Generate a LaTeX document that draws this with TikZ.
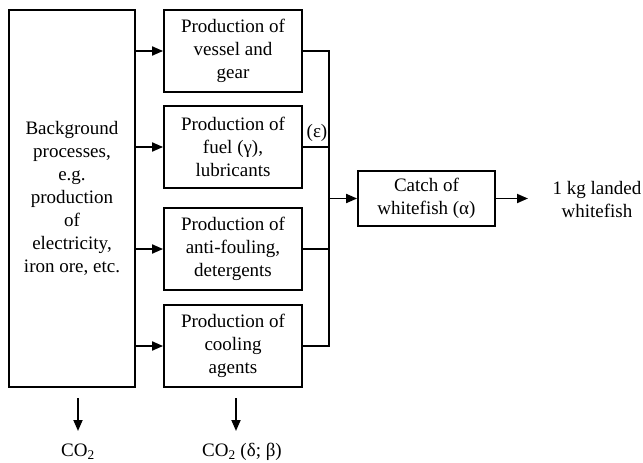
\documentclass[tikz,border=0pt]{standalone}
\usepackage{fontspec}
\setmainfont{Liberation Serif}
\usetikzlibrary{arrows.meta}
\begin{document}
\begin{tikzpicture}[x=1pt,y=-1pt,
 txt/.style={align=center,inner sep=0pt,font=\fontsize{19}{23}\selectfont},
 box/.style={txt,draw,line width=1.8pt},
 arr/.style={line width=1.8pt,-{Triangle[length=11pt,width=9pt]}},
 ln/.style={line width=1.8pt}]
\useasboundingbox (0,0) rectangle (643,463);
\node[box,minimum width=126pt,minimum height=377pt] (bg) at (72,198.5)
 {Background\\processes,\\e.g.\\production\\of\\electricity,\\iron ore, etc.};
\node[box,minimum width=138pt,minimum height=82pt] (b1) at (233,51) {Production of\\vessel and\\gear};
\node[box,minimum width=138pt,minimum height=82pt] (b2) at (233,147) {Production of\\fuel (γ),\\lubricants};
\node[box,minimum width=138pt,minimum height=82pt] (b3) at (233,249) {Production of\\anti-fouling,\\detergents};
\node[box,minimum width=138pt,minimum height=82pt] (b4) at (233,346) {Production of\\cooling\\agents};
\node[box,minimum width=137pt,minimum height=55pt] (catch) at (426.5,198.5) {Catch of\\whitefish (α)};
\node[txt] (out) at (597,199) {1 kg landed\\whitefish};
\node[txt] (eps) at (317,133) {(ε)};
\node[txt] (co2a) at (78,452) {CO\textsubscript{2}};
\node[txt] (co2b) at (242,452) {CO\textsubscript{2} (δ; β)};
\coordinate (bt) at (329,51);
\coordinate (bb) at (329,346);
\coordinate (oe) at (528,198.5);
\coordinate (a1s) at (78,398);
\coordinate (a1e) at (78,431);
\coordinate (a2s) at (236,398);
\coordinate (a2e) at (236,431);
% inputs
\draw[arr] (bg.east |- b1) -- (b1.west);
\draw[arr] (bg.east |- b2) -- (b2.west);
\draw[arr] (bg.east |- b3) -- (b3.west);
\draw[arr] (bg.east |- b4) -- (b4.west);
% bus
\draw[ln] (b1.east) -- (bt) -- (bb) -- (b4.east);
\draw[ln] (b2.east) -- (b2.east -| bt);
\draw[ln] (b3.east) -- (b3.east -| bt);
\draw[arr] (catch.west -| bt) -- (catch.west);
\draw[arr] (catch.east) -- (oe);
% emissions
\draw[arr] (a1s) -- (a1e);
\draw[arr] (a2s) -- (a2e);
\end{tikzpicture}
\end{document}
